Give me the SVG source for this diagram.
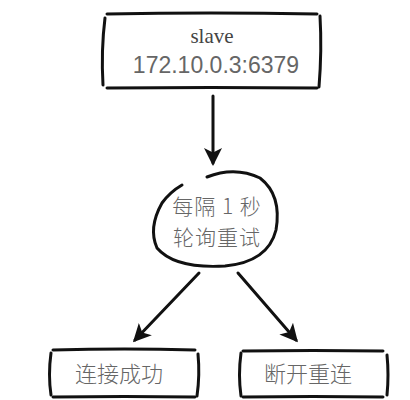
<svg xmlns="http://www.w3.org/2000/svg" width="410" height="400" viewBox="0 0 410 400">
<style>
.ln{fill:none;stroke:#111;stroke-width:3;stroke-linecap:round}
.cjk{font-family:"Noto Sans CJK SC","Noto Sans CJK JP",sans-serif;font-size:22px;font-weight:300;fill:#666;text-anchor:middle}
.mid{font-size:21px}
</style>
<defs>
<marker id="ah" viewBox="0 0 12 12" refX="10" refY="6" markerWidth="6" markerHeight="6" orient="auto" markerUnits="strokeWidth">
<path d="M0,0 L12,6 L0,12 L3,6 Z" fill="#111"/>
</marker>
</defs>
<rect width="410" height="400" fill="#fff"/>
<g id="slave">
<path class="ln" d="M107,14 Q210,12 317,14"/>
<path class="ln" d="M107,88 Q210,87 317,88"/>
<path class="ln" d="M105,18 Q101,50 103,85"/>
<path class="ln" d="M320,16 Q322,50 319,87"/>
<text x="212" y="43" text-anchor="middle" style="font-family:'Liberation Serif',serif;font-size:21px;fill:#444">slave</text>
<text x="216" y="73" text-anchor="middle" style="font-family:'Liberation Sans',sans-serif;font-size:23px;fill:#666">172.10.0.3:6379</text>
</g>
<g id="poll">
<path class="ln" d="M207,177 Q235,166 260,178 Q282,195 276,230 Q268,262 225,266 Q175,269 157,248 Q148,228 162,203 Q170,192 182,185"/>
<text class="cjk mid" x="217" y="214" letter-spacing="1">每隔 1 秒</text>
<text class="cjk mid" x="217" y="245" letter-spacing="1">轮询重试</text>
</g>
<g id="success">
<path class="ln" d="M53,350 Q125,348 195,350"/>
<path class="ln" d="M53,397 Q125,396 195,397"/>
<path class="ln" d="M51,353 Q48,375 51,395"/>
<path class="ln" d="M198,354 Q200,375 197,396"/>
<text class="cjk" x="119" y="382">连接成功</text>
</g>
<g id="retry">
<path class="ln" d="M243,351 Q313,350 383,351"/>
<path class="ln" d="M243,397 Q313,396 383,397"/>
<path class="ln" d="M241,353 Q238,375 241,396"/>
<path class="ln" d="M387,355 Q389,375 387,395"/>
<text class="cjk" x="308" y="382">断开重连</text>
</g>
<g id="connectors">
<path class="ln" d="M213,96 L213,163" marker-end="url(#ah)"/>
<path class="ln" d="M199,273 L135,340" marker-end="url(#ah)"/>
<path class="ln" d="M238,273 L296,340" marker-end="url(#ah)"/>
</g>
</svg>
